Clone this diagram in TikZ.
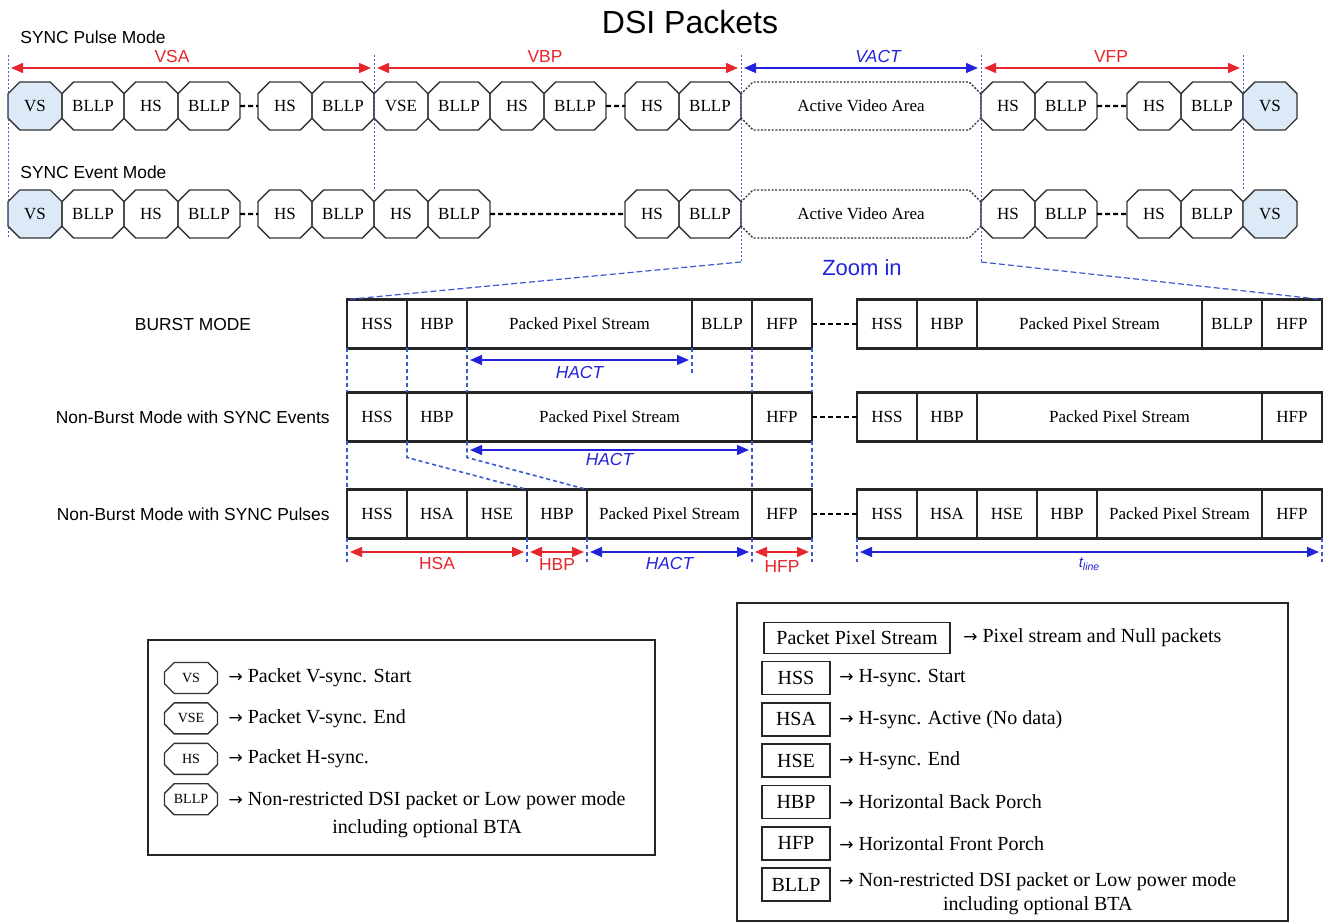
\documentclass[tikz,border=0pt]{standalone}
\usepackage{fontspec}
\setmainfont{Liberation Serif}
\setsansfont{Liberation Sans}
\newfontfamily\symfont{DejaVu Sans}
\usetikzlibrary{arrows.meta, positioning, shapes.misc}
\definecolor{dsiRed}{HTML}{E6262C}
\definecolor{dsiBlue}{HTML}{2323DC}
\definecolor{guideBlue}{HTML}{5A5ACF}
\definecolor{lineBlue}{HTML}{3A5AD0}
\definecolor{vsFill}{HTML}{DCE9F7}
\definecolor{boxLine}{HTML}{333333}
\newcommand{\pktfont}{\fontsize{8.5}{10}\selectfont}
\newcommand{\lblfont}{\sffamily\fontsize{8.7}{10}\selectfont}
\newcommand{\toarr}{{\symfont\fontsize{8.5}{10}\selectfont →}}

\begin{document}
\begin{tikzpicture}[x=0.5pt, y=-0.5pt,
    pkt/.style={chamfered rectangle, chamfered rectangle sep=3pt, draw=boxLine,
                line width=0.7pt, minimum height=24pt, inner sep=0pt, outer sep=0pt,
                font=\pktfont},
    pktS/.style={pkt, minimum width=27pt},
    pktL/.style={pkt, minimum width=31pt},
    vsbox/.style={pktS, fill=vsFill},
    avabox/.style={pkt, minimum width=120pt, dash pattern=on 1pt off 0.8pt},
    cell/.style={rectangle, draw=black!85, line width=1.1pt, minimum height=24.5pt,
                 inner sep=0pt, outer sep=0pt, font=\pktfont},
    cellw/.style={cell, minimum width=30pt},
    gapline/.style={draw=black, line width=1.2pt, dash pattern=on 2.5pt off 1.5pt},
    guide/.style={draw=guideBlue, line width=0.5pt, dash pattern=on 1pt off 1pt},
    vguide/.style={draw=lineBlue, line width=0.8pt, dash pattern=on 2pt off 1.5pt},
    zoomline/.style={draw=lineBlue, line width=0.6pt, dash pattern=on 3pt off 1.5pt},
    dimarr/.style={{Triangle[length=6pt,width=5pt]}-{Triangle[length=6pt,width=5pt]},
                   line width=0.7pt, shorten <=1.5pt, shorten >=1.5pt},
    dimred/.style={dimarr, color=dsiRed},
    dimblue/.style={dimarr, color=dsiBlue},
    dimlabel/.style={font=\lblfont, inner sep=1pt},
    modelabel/.style={font=\lblfont, inner sep=0pt},
    legframe/.style={draw=black!85, line width=0.9pt},
    legpkt/.style={chamfered rectangle, chamfered rectangle sep=2.5pt, draw=boxLine,
                   line width=0.7pt, minimum width=26.5pt, minimum height=15.5pt,
                   inner sep=0pt, font=\fontsize{7}{8}\selectfont},
    legcell/.style={rectangle, draw=black!85, line width=0.9pt, minimum height=16.5pt,
                    inner sep=0pt, font=\fontsize{10}{12}\selectfont},
    legtext/.style={inner sep=0pt, font=\fontsize{10}{14}\selectfont},
  ]
  \useasboundingbox (0,0) rectangle (1333,924);

  % title and row captions
  \node[font=\sffamily\fontsize{16}{19}\selectfont] (title) at (690,22) {DSI Packets};
  \node[modelabel, anchor=west] (mpulse) at (20,37) {SYNC Pulse Mode};
  \node[modelabel, anchor=west] (mevent) at (20,172) {SYNC Event Mode};

  % SYNC pulse mode
  \node[vsbox, anchor=west] (u1) at (8,106) {VS};
  \node[pktL, right=0pt of u1] (u2) {BLLP};
  \node[pktS, right=0pt of u2] (u3) {HS};
  \node[pktL, right=0pt of u3] (u4) {BLLP};
  \node[pktS, right=9pt of u4] (u5) {HS};
  \node[pktL, right=0pt of u5] (u6) {BLLP};
  \node[pktS, right=0pt of u6] (u7) {VSE};
  \node[pktL, right=0pt of u7] (u8) {BLLP};
  \node[pktS, right=0pt of u8] (u9) {HS};
  \node[pktL, right=0pt of u9] (u10) {BLLP};
  \node[pktS, right=9.5pt of u10] (u11) {HS};
  \node[pktL, right=0pt of u11] (u12) {BLLP};
  \node[avabox, right=0pt of u12] (u13) {Active Video Area};
  \node[pktS, right=0pt of u13] (u14) {HS};
  \node[pktL, right=0pt of u14] (u15) {BLLP};
  \node[pktS, right=15pt of u15] (u16) {HS};
  \node[pktL, right=0pt of u16] (u17) {BLLP};
  \node[vsbox, right=0pt of u17] (u18) {VS};
  \draw[gapline] (u4) -- (u5);
  \draw[gapline] (u10) -- (u11);
  \draw[gapline] (u15) -- (u16);

  % SYNC event mode
  \node[vsbox, anchor=west] (e1) at (8,214) {VS};
  \node[pktL, right=0pt of e1] (e2) {BLLP};
  \node[pktS, right=0pt of e2] (e3) {HS};
  \node[pktL, right=0pt of e3] (e4) {BLLP};
  \node[pktS, right=9pt of e4] (e5) {HS};
  \node[pktL, right=0pt of e5] (e6) {BLLP};
  \node[pktS, right=0pt of e6] (e7) {HS};
  \node[pktL, right=0pt of e7] (e8) {BLLP};
  \node[pktS, right=67.5pt of e8] (e9) {HS};
  \node[pktL, right=0pt of e9] (e10) {BLLP};
  \node[avabox, right=0pt of e10] (e11) {Active Video Area};
  \node[pktS, right=0pt of e11] (e12) {HS};
  \node[pktL, right=0pt of e12] (e13) {BLLP};
  \node[pktS, right=15pt of e13] (e14) {HS};
  \node[pktL, right=0pt of e14] (e15) {BLLP};
  \node[vsbox, right=0pt of e15] (e16) {VS};
  \draw[gapline] (e4) -- (e5);
  \draw[gapline] (e8) -- (e9);
  \draw[gapline] (e13) -- (e14);

  % vertical timing
  \coordinate (gtop) at (0,55);
  \coordinate (dimy) at (0,68);
  \path (e10.east) ++(0,48) coordinate (zoomL);
  \path (e11.east) ++(0,48) coordinate (zoomR);
  \draw[guide] (u1.west |- gtop) -- (e1.west |- e1.south);
  \draw[guide] (u6.east |- gtop) -- (e6.east |- e6.north);
  \draw[guide] (u12.east |- gtop) -- (zoomL);
  \draw[guide] (u13.east |- gtop) -- (zoomR);
  \draw[guide] (u18.west |- gtop) -- (e16.west |- e16.north);
  \draw[dimred] (u1.west |- dimy) -- (u6.east |- dimy);
  \draw[dimred] (u7.west |- dimy) -- (u12.east |- dimy);
  \draw[dimblue] (u13.west |- dimy) -- (u13.east |- dimy);
  \draw[dimred] (u14.west |- dimy) -- (u18.west |- dimy);
  \node[dimlabel, text=dsiRed] (lvsa) at (172,57) {VSA};
  \node[dimlabel, text=dsiRed] (lvbp) at (545,57) {VBP};
  \node[dimlabel, text=dsiBlue, font=\lblfont\itshape] (lvact) at (878,57) {VACT};
  \node[dimlabel, text=dsiRed] (lvfp) at (1111,57) {VFP};

  % zoomed horizontal line
  \node[font=\sffamily\fontsize{11}{13}\selectfont, text=dsiBlue] (zoomtxt) at (862,268) {Zoom in};
  \node[modelabel] (mburst) at (193,325) {BURST MODE};
  \node[modelabel, anchor=east] (mnbev) at (330,417) {Non-Burst Mode with SYNC Events};
  \node[modelabel, anchor=east] (mnbpu) at (330,514) {Non-Burst Mode with SYNC Pulses};

  % burst mode
  \node[cellw, anchor=west] (b1) at (347,324) {HSS};
  \node[cellw, right=0pt of b1] (b2) {HBP};
  \node[cell, minimum width=112.5pt, right=0pt of b2] (b3) {Packed Pixel Stream};
  \node[cellw, right=0pt of b3] (b4) {BLLP};
  \node[cellw, right=0pt of b4] (b5) {HFP};
  \node[cellw, anchor=west] (b6) at (857,324) {HSS};
  \node[cellw, right=0pt of b6] (b7) {HBP};
  \node[cell, minimum width=112.5pt, right=0pt of b7] (b8) {Packed Pixel Stream};
  \node[cellw, right=0pt of b8] (b9) {BLLP};
  \node[cellw, right=0pt of b9] (b10) {HFP};
  \draw[gapline] (b5) -- (b6);

  % non-burst, sync events
  \node[cellw, anchor=west] (n1) at (347,417) {HSS};
  \node[cellw, right=0pt of n1] (n2) {HBP};
  \node[cell, minimum width=142.5pt, right=0pt of n2] (n3) {Packed Pixel Stream};
  \node[cellw, right=0pt of n3] (n4) {HFP};
  \node[cellw, anchor=west] (n5) at (857,417) {HSS};
  \node[cellw, right=0pt of n5] (n6) {HBP};
  \node[cell, minimum width=142.5pt, right=0pt of n6] (n7) {Packed Pixel Stream};
  \node[cellw, right=0pt of n7] (n8) {HFP};
  \draw[gapline] (n4) -- (n5);

  % non-burst, sync pulses
  \node[cellw, anchor=west] (s1) at (347,514) {HSS};
  \node[cellw, right=0pt of s1] (s2) {HSA};
  \node[cellw, right=0pt of s2] (s3) {HSE};
  \node[cellw, right=0pt of s3] (s4) {HBP};
  \node[cell, minimum width=82.5pt, right=0pt of s4] (s5) {Packed Pixel Stream};
  \node[cellw, right=0pt of s5] (s6) {HFP};
  \node[cellw, anchor=west] (s7) at (857,514) {HSS};
  \node[cellw, right=0pt of s7] (s8) {HSA};
  \node[cellw, right=0pt of s8] (s9) {HSE};
  \node[cellw, right=0pt of s9] (s10) {HBP};
  \node[cell, minimum width=82.5pt, right=0pt of s10] (s11) {Packed Pixel Stream};
  \node[cellw, right=0pt of s11] (s12) {HFP};
  \draw[gapline] (s6) -- (s7);

  \draw[zoomline] (zoomL) -- (b1.north west);
  \draw[zoomline] (zoomR) -- (b10.north east);

  % guides between the rows
  \draw[vguide] (b1.south west) -- (n1.north west);
  \draw[vguide] (b2.south west) -- (n2.north west);
  \draw[vguide] (b3.south west) -- (n3.north west);
  \draw[vguide] (b3.south east) -- ++(0,26);
  \draw[vguide] (b5.south west) -- (n4.north west);
  \draw[vguide] (b5.south east) -- (n4.north east);
  \draw[vguide] (n1.south west) -- (s1.north west);
  \draw[vguide] (n2.south west) -- ++(0,16) -- (s4.north west);
  \draw[vguide] (n3.south west) -- ++(0,16) -- (s5.north west);
  \draw[vguide] (n4.south west) -- (s6.north west);
  \draw[vguide] (n4.south east) -- (s6.north east);
  \draw[vguide] (s1.south west) -- ++(0,24);
  \draw[vguide] (s4.south west) -- ++(0,24);
  \draw[vguide] (s5.south west) -- ++(0,24);
  \draw[vguide] (s6.south west) -- ++(0,24);
  \draw[vguide] (s6.south east) -- ++(0,24);
  \draw[vguide] (s7.south west) -- ++(0,24);
  \draw[vguide] (s12.south east) -- ++(0,24);

  % horizontal timing
  \coordinate (hact1) at (0,360);
  \coordinate (hact2) at (0,450);
  \coordinate (hdim) at (0,552);
  \draw[dimblue] (b3.south west |- hact1) -- (b3.south east |- hact1)
    node[dimlabel, midway, below=2pt, font=\lblfont\itshape] {HACT};
  \draw[dimblue] (n3.south west |- hact2) -- (n3.south east |- hact2)
    node[dimlabel, midway, below=0.5pt, font=\lblfont\itshape] {HACT};
  \draw[dimred] (s1.south west |- hdim) -- (s4.south west |- hdim)
    node[dimlabel, midway, below=1.5pt] {HSA};
  \draw[dimred] (s4.south west |- hdim) -- (s5.south west |- hdim)
    node[dimlabel, midway, below=2pt] {HBP};
  \draw[dimblue] (s5.south west |- hdim) -- (s6.south west |- hdim)
    node[dimlabel, midway, below=1.5pt, font=\lblfont\itshape] {HACT};
  \draw[dimred] (s6.south west |- hdim) -- (s6.south east |- hdim)
    node[dimlabel, midway, below=3pt] {HFP};
  \draw[dimblue] (s7.south west |- hdim) -- (s12.south east |- hdim)
    node[dimlabel, midway, below=1.5pt, font=\sffamily\fontsize{7.5}{9}\selectfont\itshape] {t\textsubscript{line}};

  % legend of the packets
  \draw[legframe] (148,640) rectangle (655,855);
  \node[legpkt] (k1) at (191,678) {VS};
  \node[legpkt, below=4pt of k1] (k2) {VSE};
  \node[legpkt, below=4pt of k2] (k3) {HS};
  \node[legpkt, below=4pt of k3] (k4) {BLLP};
  \node[legtext, right=5pt of k1] (t1) {\toarr\ Packet V-sync. Start};
  \node[legtext, right=5pt of k2] (t2) {\toarr\ Packet V-sync. End};
  \node[legtext, right=5pt of k3] (t3) {\toarr\ Packet H-sync.};
  \node[legtext, right=5pt of k4, yshift=-8pt, align=center] (t4)
    {\toarr\ Non-restricted DSI packet or Low power mode\\including optional BTA};

  % legend of the line parts
  \draw[legframe] (737,603) rectangle (1288,921);
  \node[legcell, minimum width=93pt, minimum height=15.5pt] (q0) at (857,638) {Packet Pixel Stream};
  \node[legtext, right=6pt of q0] (r0) {\toarr\ Pixel stream and Null packets};
  \node[legcell, minimum width=34pt] (q1) at (796,678) {HSS};
  \node[legcell, minimum width=34pt, below=3.25pt of q1] (q2) {HSA};
  \node[legcell, minimum width=34pt, below=3.25pt of q2] (q3) {HSE};
  \node[legcell, minimum width=34pt, below=3.25pt of q3] (q4) {HBP};
  \node[legcell, minimum width=34pt, below=3.25pt of q4] (q5) {HFP};
  \node[legcell, minimum width=34pt, below=3.25pt of q5] (q6) {BLLP};
  \node[legtext, right=4pt of q1] (r1) {\toarr\ H-sync. Start};
  \node[legtext, right=4pt of q2] (r2) {\toarr\ H-sync. Active (No data)};
  \node[legtext, right=4pt of q3] (r3) {\toarr\ H-sync. End};
  \node[legtext, right=4pt of q4] (r4) {\toarr\ Horizontal Back Porch};
  \node[legtext, right=4pt of q5] (r5) {\toarr\ Horizontal Front Porch};
  \node[legtext, right=4pt of q6, yshift=-4.5pt, align=center,
        font=\fontsize{10}{12}\selectfont] (r6)
    {\toarr\ Non-restricted DSI packet or Low power mode\\including optional BTA};
\end{tikzpicture}
\end{document}
